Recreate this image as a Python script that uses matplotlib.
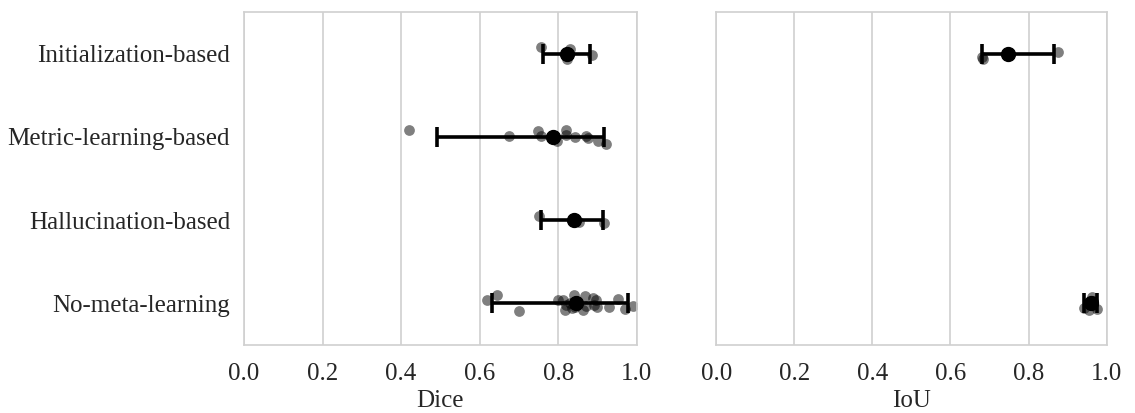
import numpy as np
import matplotlib.pyplot as plt

categories = ["Initialization-based", "Metric-learning-based",
              "Hallucination-based", "No-meta-learning"]

dice_init = [0.756, 0.830, 0.822, 0.885]
dice_metric = [0.420, 0.675, 0.757, 0.749, 0.796, 0.819, 0.821, 0.842,
               0.872, 0.876, 0.902, 0.921]
dice_halluc = [0.752, 0.853, 0.916]
dice_nometa = [0.619, 0.643, 0.700, 0.800, 0.811, 0.817, 0.819, 0.830,
               0.836, 0.840, 0.842, 0.845, 0.868, 0.872, 0.862, 0.889,
               0.890, 0.895, 0.900, 0.930, 0.952, 0.969, 0.991]

iou_init = [0.680, 0.684, 0.875]
iou_nometa = [0.942, 0.955, 0.962, 0.976, 0.965]

dice = [dice_init, dice_metric, dice_halluc, dice_nometa]
iou = [iou_init, [], [], iou_nometa]

plt.rcParams["font.family"] = ["Liberation Serif", "DejaVu Serif"]

fig = plt.figure(figsize=(11.35, 4.13), dpi=100)
ax1 = fig.add_axes([0.215, 0.165, 0.346, 0.806])
ax2 = fig.add_axes([0.631, 0.165, 0.344, 0.806])

rng = np.random.default_rng(3)


def draw_panel(ax, groups, label):
    for i, vals in enumerate(groups):
        if len(vals) == 0:
            continue
        vals = np.array(vals)
        jitter = rng.uniform(-0.1, 0.1, len(vals))
        ax.scatter(vals, i + jitter, s=60, color="black", alpha=0.5,
                   linewidths=0, zorder=2)
        m = vals.mean()
        lo, hi = np.percentile(vals, [2.5, 97.5])
        ax.errorbar([m], [i], xerr=[[m - lo], [hi - m]], fmt="o",
                    color="black", markersize=10, elinewidth=2.6,
                    capsize=7.5, capthick=2.6, zorder=3)
    ax.set_xlim(0, 1)
    ax.set_ylim(3.5, -0.5)
    ax.set_xticks([0, 0.2, 0.4, 0.6, 0.8, 1.0])
    ax.set_xticklabels(["0.0", "0.2", "0.4", "0.6", "0.8", "1.0"])
    ax.set_yticks(range(len(categories)))
    ax.grid(axis="x", color="#d0d0d0", linewidth=1.2, zorder=0)
    ax.set_axisbelow(True)
    for s in ax.spines.values():
        s.set_color("#d0d0d0")
        s.set_linewidth(1.2)
    ax.tick_params(length=0, pad=10, labelsize=18, colors="#262626")
    ax.tick_params(axis="x", pad=13)
    ax.set_xlabel(label, fontsize=18, color="#262626", labelpad=4)


draw_panel(ax1, dice, "Dice")
draw_panel(ax2, iou, "IoU")
ax1.set_yticklabels(categories)
ax2.set_yticklabels([])

fig.savefig("out.png", dpi=100)
